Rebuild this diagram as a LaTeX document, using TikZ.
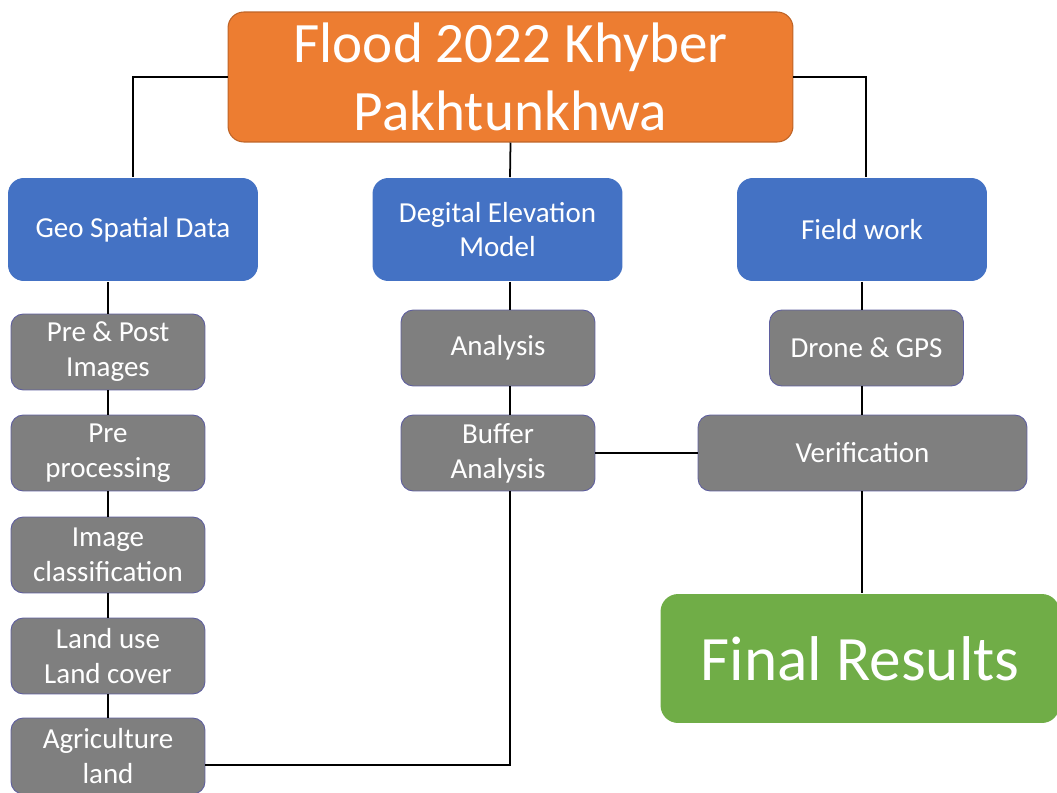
\documentclass[tikz,border=0pt]{standalone}
\usepackage{fontspec}
\setmainfont{Carlito}
\usetikzlibrary{positioning}
\definecolor{floodorange}{HTML}{ED7D31}
\definecolor{stepblue}{HTML}{4472C4}
\definecolor{stepgray}{HTML}{7F7F7F}
\definecolor{resgreen}{HTML}{70AD47}

\begin{document}
\begin{tikzpicture}[x=0.02cm,y=-0.02cm,line width=1pt,
    title node/.style={rectangle,rounded corners=9pt,fill=floodorange,draw=floodorange!80!black,line width=0.6pt,text=white,
      minimum width=11.3cm,minimum height=2.6cm,align=center,font=\fontsize{32.5}{39}\selectfont},
    main node/.style={rectangle,rounded corners=9pt,fill=stepblue,text=white,
      minimum width=5cm,minimum height=2.06cm,align=center,font=\fontsize{16.5}{19.5}\selectfont},
    small node/.style={rectangle,rounded corners=7pt,fill=stepgray,draw=stepgray!75!blue,line width=0.5pt,text=white,
      minimum width=3.88cm,minimum height=1.52cm,align=center,inner sep=2pt,font=\fontsize{16.5}{20}\selectfont},
    result node/.style={rectangle,rounded corners=10pt,fill=resgreen,text=white,
      minimum width=7.98cm,minimum height=2.58cm,align=center,font=\fontsize{36}{42}\selectfont}]
  \useasboundingbox (0,0) rectangle (1057,793);

  % top
  \node[title node] (flood) at (510.5,77) {Flood 2022 Khyber\\Pakhtunkhwa};

  % second row
  \node[main node] (geo) at (133,229.5) {Geo Spatial Data};
  \node[main node] (dem) at (497.5,229.5) {Degital Elevation\\Model};
  \node[main node] (field) at (862,229.5) {Field work};

  % left column
  \node[small node] (prepost) at (108,352) {Pre \& Post\\Images};
  \node[small node] (preproc) at (108,453) {Pre\\processing};
  \node[small node] (classif) at (108,555) {Image\\classification};
  \node[small node] (lulc) at (108,656) {Land use\\Land cover};
  \node[small node] (agri) at (108,756) {Agriculture\\land};

  % middle column
  \node[small node] (analysis) at (498,348) {Analysis};
  \node[small node] (buffer) at (498,453) {Buffer\\Analysis};

  % right column
  \node[small node] (drone) at (866.5,348) {Drone \& GPS};
  \node[small node,minimum width=6.58cm] (verif) at (862.5,453) {Verification};
  \node[result node] (final) at (860,658.5) {Final Results};

  \coordinate (mid) at (510,0);
  \coordinate (rgt) at (862,0);
  \coordinate (bend) at (510,765);

  \draw (flood.west) -| (geo.north);
  \draw (flood.east) -| (866,0 |- field.north);
  \draw (flood.south) -- (mid |- dem.north);

  \draw (prepost.north) -- (prepost.north |- geo.south);
  \draw (prepost) -- (preproc);
  \draw (preproc) -- (classif);
  \draw (classif) -- (lulc);
  \draw (lulc) -- (agri);

  \draw (mid |- dem.south) -- (mid |- analysis.north);
  \draw (mid |- analysis.south) -- (mid |- buffer.north);
  \draw (mid |- buffer.south) -- (bend) -- (bend -| agri.east);

  \draw (rgt |- field.south) -- (rgt |- drone.north);
  \draw (rgt |- drone.south) -- (rgt |- verif.north);
  \draw (rgt |- verif.south) -- (rgt |- final.north);
  \draw (buffer.east |- verif.west) -- (verif.west);
\end{tikzpicture}
\end{document}
